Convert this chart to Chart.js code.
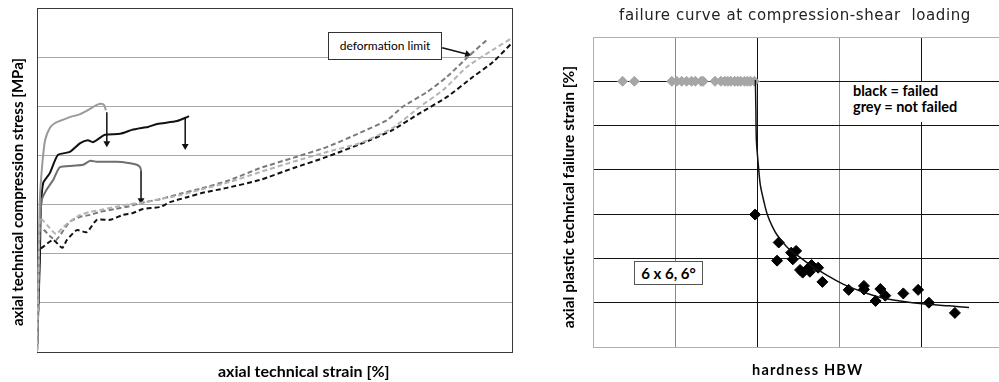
<!DOCTYPE html>
<html>
<head>
<meta charset="utf-8">
<script src="https://cdn.jsdelivr.net/npm/chart.js@4.4.1/dist/chart.umd.min.js"></script>
<style>
  body { margin:0; width:999px; height:382px; overflow:hidden; background:#fff; position:relative; font-family:Lato, sans-serif; }
  canvas { position:absolute; top:0; }
  #stressChart { left:0; }
  #failChart { left:540px; }
  .lbl { position:absolute; white-space:nowrap; color:#000; font-weight:bold; font-family:Lato, sans-serif; }
  .rot { text-align:center; width:300px; height:18px; line-height:18px; transform:rotate(-90deg); }
</style>
</head>
<body>
<canvas id="stressChart" width="530" height="382"></canvas>
<canvas id="failChart" width="470" height="382"></canvas>

<div class="lbl" style="left:218px; top:361px; font-size:16px;">axial technical strain [%]</div>
<div class="lbl rot" style="left:-133px; top:183px; font-size:15px;">axial technical compression stress [MPa]</div>
<div class="lbl" style="left:328px; top:32px; width:112px; height:26px; line-height:26px; border:1px solid #333; background:#fff; font-weight:normal; font-size:12px; text-align:center;">deformation limit</div>

<div class="lbl" style="left:595px; top:6px; width:400px; text-align:center; font-family:'DejaVu Sans', sans-serif; font-weight:normal; font-size:15px; letter-spacing:0.6px; color:#222;">failure curve at compression-shear&nbsp; loading</div>
<div class="lbl rot" style="left:418px; top:188px; font-size:15.5px;">axial plastic technical failure strain [%]</div>
<div class="lbl" style="left:752px; top:361px; font-size:14.5px; letter-spacing:1.2px;">hardness HBW</div>
<div class="lbl" style="left:843px; top:82px; width:150px; height:40px; padding-left:10px; padding-top:1px; box-sizing:border-box; background:#fff; font-size:14.5px; line-height:16px;">black = failed<br>grey = not failed</div>
<div class="lbl" style="left:634px; top:261px; width:67px; height:22px; line-height:22px; border:1px solid #555; background:#fff; font-size:15px; text-align:center;">6 x 6, 6°</div>

<script>
// left chart: stress vs strain, [strain, stress]
const greySolid = [[0,0],[0.2,106],[0.4,208],[0.6,309],[1.1,381],[1.7,431],[2.7,456],[3.8,466],[5.3,472],[6.9,478],[9.1,484],[10.7,492],[12.2,501],[13.3,505],[14.1,503],[14.5,492]];
const blackSolid = [[0,0],[0.2,65],[0.6,187],[0.8,289],[1.3,344],[2.7,364],[4.4,401],[6.9,407],[9.1,425],[10.7,431],[11.8,427],[14.3,442],[17.5,444],[20.0,452],[22.1,456],[23.4,458],[25.3,464],[29.5,470],[31.6,478],[32.0,480]];
const darkGreySolid = [[0,0],[0.2,106],[0.4,187],[0.6,258],[1.0,309],[2.0,330],[3.4,350],[4.8,376],[7.6,379],[9.7,381],[11.2,389],[12.6,387],[14.7,387],[16.8,387],[18.9,385],[21.0,381],[21.7,376],[21.9,370]];
const midGreyDashed = [[0,0],[0.2,106],[0.4,208],[0.6,252],[1.5,248],[2.7,236],[4.0,228],[5.3,244],[6.9,265],[9.1,275],[11.2,279],[13.3,285],[16.4,291],[19.6,297],[21.7,303],[25.9,311],[30.1,322],[34.3,332],[40.6,350],[46.9,374],[53.9,395],[61.0,417],[68.0,446],[73.7,472],[77.0,499],[82.1,529],[86.3,560],[91.1,604],[94.7,635]];
const lightGreyDashed = [[0,0],[0.2,85],[0.4,187],[0.6,273],[1.5,265],[2.7,252],[4.0,240],[5.3,252],[6.9,265],[9.1,279],[11.2,285],[13.3,289],[16.4,295],[19.6,301],[21.7,303],[25.9,311],[30.1,319],[34.3,330],[40.6,346],[46.9,366],[53.9,387],[61.0,407],[68.0,425],[74.9,456],[80.6,499],[85.5,533],[90.5,580],[96.0,615],[100,639]];
const blackDashed = [[0,0],[0.2,65],[0.4,147],[0.6,208],[1.3,214],[3.4,228],[5.3,212],[6.3,228],[8.4,248],[10.5,244],[12.6,269],[15.4,269],[18.1,279],[20.2,283],[22.3,291],[25.9,295],[28.0,305],[31.6,315],[34.9,324],[40.0,334],[46.9,350],[53.9,374],[61.0,397],[70.1,431],[74.9,452],[80.6,486],[86.3,519],[91.8,560],[96.0,590],[100,629]];
const failArrows = [
  [[14.7,488],[14.7,425]],
  [[31.2,478],[31.2,419]],
  [[21.9,370],[21.9,309]]
];
const limitArrow = [[85.3,619],[90.6,606]];

// right chart: failure strain vs hardness, [HBW, strain]
const notFailed = [[118.0,60],[125.2,60],[148.0,60],[151.0,60],[154.0,60],[157.0,60],[160.0,60],[162.3,60],[165.9,60],[167.1,60],[174.3,60],[177.9,60],[180.3,60],[182.1,60],[183.9,60],[186.3,60],[188.1,60],[189.9,60],[192.3,60],[194.1,60],[195.9,60],[198.3,60]];
const failed = [[198.7,29.9],[213.1,23.6],[212.1,19.5],[220.7,21.3],[223.7,21.7],[221.7,19.8],[226.1,17.4],[227.7,16.8],[233.1,18.5],[232.1,17.0],[231.1,17.8],[237.1,17.9],[239.7,14.7],[255.7,12.9],[265.0,13.8],[265.0,13.0],[272.1,10.4],[275.0,13.1],[278.0,11.6],[289.0,12.1],[298.0,12.9],[304.6,10.0],[320.4,7.7]];
const failureCurve = [[198.9,60.3],[199.2,53.5],[199.5,46.7],[200.7,41.1],[201.9,36.6],[204.3,32.5],[206.1,30.0],[209.1,27.3],[212.1,25.3],[218.1,22.6],[224.1,20.8],[233.1,18.3],[242.1,16.3],[252.3,14.2],[263.1,12.6],[273.9,11.3],[287.0,10.4],[302.0,9.7],[317.0,9.3],[329.0,8.9]];

const toXY = pts => pts.map(([x, y]) => ({x, y}));

function curve(pts, color, dash) {
  return {
    data: toXY(pts), borderColor: color, borderWidth: 2, borderDash: dash || [],
    pointRadius: 0, tension: 0.2, fill: false
  };
}

function arrow(pts, rot) {
  return {
    data: toXY(pts), borderColor: '#111', backgroundColor: '#111', borderWidth: 1.5,
    pointStyle: 'triangle', pointRadius: [0, 4], pointRotation: [0, rot],
    pointBorderWidth: 0, tension: 0, fill: false
  };
}

const frame = {
  id: 'frame',
  beforeDatasetsDraw(chart, args, opts) {
    if (!opts.color) return;
    const a = chart.chartArea;
    const c = chart.ctx;
    c.save();
    c.strokeStyle = opts.color;
    c.lineWidth = 1;
    c.strokeRect(Math.round(a.left) + 0.5, Math.round(a.top) + 0.5, Math.round(a.right - a.left), Math.round(a.bottom - a.top));
    c.restore();
  }
};

new Chart(document.getElementById('stressChart'), {
  type: 'line',
  data: {
    datasets: [
      curve(lightGreyDashed, '#b4b4b4', [5, 3]),
      curve(midGreyDashed, '#7a7a7a', [5, 3]),
      curve(blackDashed, '#111', [5, 3]),
      curve(greySolid, '#9a9a9a'),
      curve(darkGreySolid, '#6e6e6e'),
      curve(blackSolid, '#111'),
      ...failArrows.map(a => arrow(a, 180)),
      arrow(limitArrow, 104)
    ]
  },
  options: {
    responsive: false,
    animation: false,
    layout: { padding: { left: 37, top: 8, right: 18, bottom: 30 } },
    plugins: { legend: { display: false }, tooltip: { enabled: false }, frame: { color: '#3a3a3a' } },
    scales: {
      x: {
        type: 'linear', min: 0, max: 100,
        ticks: { display: false },
        grid: { display: false, drawTicks: false },
        border: { display: false }
      },
      y: {
        min: 0, max: 700,
        ticks: { display: false, stepSize: 100 },
        grid: { color: '#a8a8a8', drawTicks: false },
        border: { display: false }
      }
    }
  },
  plugins: [frame]
});

new Chart(document.getElementById('failChart'), {
  type: 'line',
  data: {
    datasets: [
      {
        data: toXY(failureCurve), borderColor: '#111', borderWidth: 1.5,
        pointRadius: 0, tension: 0.3, fill: false
      },
      {
        data: toXY(notFailed), showLine: false, pointStyle: 'rectRot', pointRadius: 5,
        backgroundColor: '#a6a6a6', borderColor: '#a6a6a6'
      },
      {
        data: toXY(failed), showLine: false, pointStyle: 'rectRot', pointRadius: 5.5,
        backgroundColor: '#000', borderColor: '#000'
      }
    ]
  },
  options: {
    responsive: false,
    animation: false,
    layout: { padding: { left: 53, top: 37, right: 0, bottom: 35 } },
    plugins: { legend: { display: false }, tooltip: { enabled: false } },
    scales: {
      x: {
        type: 'linear', min: 100, max: 350,
        ticks: { display: false, stepSize: 50 },
        grid: {
          drawTicks: false,
          color: ctx => (ctx.tick && ctx.tick.value % 100 === 0) ? '#111' : '#8a8a8a',
          lineWidth: ctx => (ctx.tick && ctx.tick.value === 100) ? 0 : 1
        },
        border: { display: true, color: '#b0b0b0' }
      },
      y: {
        min: 0, max: 70,
        ticks: { display: false, stepSize: 10 },
        grid: {
          drawTicks: false,
          color: ctx => (ctx.tick && (ctx.tick.value === 70 || ctx.tick.value === 0)) ? '#b0b0b0' : '#111'
        },
        border: { display: true, color: '#b0b0b0' }
      }
    }
  }
});
</script>
</body>
</html>
